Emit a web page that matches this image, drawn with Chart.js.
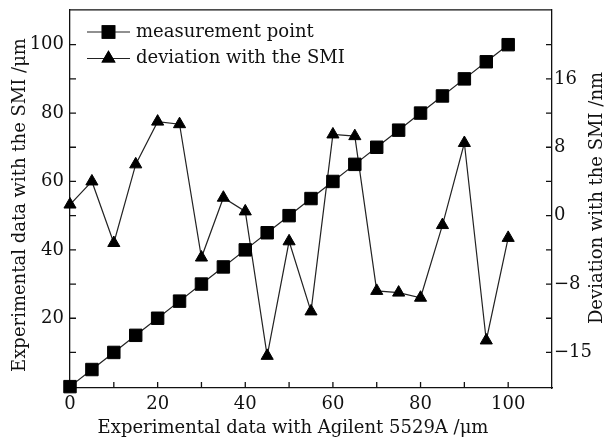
<!DOCTYPE html>
<html>
<head>
<meta charset="utf-8">
<script src="https://cdn.jsdelivr.net/npm/chart.js@4.4.1/dist/chart.umd.min.js"></script>
<style>
  html, body { margin: 0; padding: 0; background: #fff; }
  #wrap { width: 605px; height: 444px; }
</style>
</head>
<body>
<div id="wrap"><canvas id="chart"></canvas></div>
<script>
// x positions (Agilent 5529A, um)
const xValues = [0, 5, 10, 15, 20, 25, 30, 35, 40, 45, 50, 55, 60, 65, 70, 75, 80, 85, 90, 95, 100]
// measured with the SMI (um), left axis
const measured = [0, 5, 10, 15, 20, 25, 30, 35, 40, 45, 50, 55, 60, 65, 70, 75, 80, 85, 90, 95, 100]
// deviation with the SMI (nm), right axis
const deviation = [1.3, 4.0, -3.2, 6.0, 11.0, 10.7, -4.9, 2.1, 0.5, -16.4, -3.0, -11.2, 9.5, 9.3, -8.8, -9.0, -9.6, -1.1, 8.5, -14.6, -2.6]

const xTicks = [0, 10, 20, 30, 40, 50, 60, 70, 80, 90, 100]
const xLabels = [0, 20, 40, 60, 80, 100]
const leftTicks = [10, 20, 30, 40, 50, 60, 70, 80, 90, 100]
const leftLabels = [20, 40, 60, 80, 100]
const rightTicks = [-16, -12, -8, -4, 0, 4, 8, 12, 16, 20]
const rightLabelValues = [-16, -8, 0, 8, 16]
const rightLabelTexts = ['\u221215', '\u22128', '0', '8', '16']

const seriesNames = ['measurement point', 'deviation with the SMI']
const titleX = 'Experimental data with Agilent 5529A /\u03bcm'
const titleLeft = 'Experimental data with the SMI /\u03bcm'
const titleRight = 'Deviation with the SMI /nm'

const FONT = "'DejaVu Serif', serif"
const FSIZE = 18
Chart.defaults.font.family = FONT
Chart.defaults.font.size = FSIZE
Chart.defaults.color = '#111'

const toPoints = vals => xValues.map((x, i) => ({ x: x, y: vals[i] }))

const noPadV = s => { s.paddingTop = 0; s.paddingBottom = 0 }

const drawText = (ctx, text, x, y, rot) => {
	ctx.save()
	ctx.fillStyle = '#111'
	ctx.font = FSIZE + 'px ' + FONT
	ctx.textAlign = 'center'
	ctx.textBaseline = 'middle'
	ctx.translate(x, y)
	ctx.rotate(rot)
	ctx.fillText(text, 0, 0)
	ctx.restore()
}

// inward tick marks, frame top line, axis titles and legend
const decor = {
	id: 'decor',
	afterDraw(chart) {
		const ctx = chart.ctx
		const area = chart.chartArea
		ctx.save()
		ctx.strokeStyle = '#111'
		ctx.lineWidth = 1.3
		ctx.beginPath()
		ctx.moveTo(area.left, area.top)
		ctx.lineTo(area.right, area.top)
		const len = 6
		chart.scales.x.ticks.forEach(t => {
			if (t.value <= 0) return
			const px = chart.scales.x.getPixelForValue(t.value)
			ctx.moveTo(px, area.bottom)
			ctx.lineTo(px, area.bottom - len)
		})
		chart.scales.y.ticks.forEach(t => {
			const py = chart.scales.y.getPixelForValue(t.value)
			ctx.moveTo(area.left, py)
			ctx.lineTo(area.left + len, py)
		})
		chart.scales.y2.ticks.forEach(t => {
			const py = chart.scales.y2.getPixelForValue(t.value)
			ctx.moveTo(area.right, py)
			ctx.lineTo(area.right - len, py)
		})
		ctx.stroke()
		ctx.restore()

		// axis titles
		drawText(ctx, titleX, 293, 428, 0)
		drawText(ctx, titleLeft, 20, 205, -Math.PI / 2)
		drawText(ctx, titleRight, 597, 198, -Math.PI / 2)

		// legend
		ctx.save()
		ctx.fillStyle = '#fff'
		ctx.fillRect(80, 15, 270, 60)
		chart.data.datasets.forEach((ds, i) => {
			const y = 32 + i * 26.5
			ctx.strokeStyle = ds.borderColor
			ctx.lineWidth = ds.borderWidth
			ctx.beginPath()
			ctx.moveTo(87, y)
			ctx.lineTo(130, y)
			ctx.stroke()
			Chart.helpers.drawPoint(ctx, {
				pointStyle: ds.pointStyle,
				radius: ds.pointRadius,
				rotation: 0,
				borderWidth: 1
			}, 108.5, y)
			ctx.fillStyle = '#000'
			ctx.strokeStyle = '#000'
			ctx.fill()
			ctx.stroke()
			ctx.fillStyle = '#111'
			ctx.font = FSIZE + 'px ' + FONT
			ctx.textAlign = 'left'
			ctx.textBaseline = 'middle'
			ctx.fillText(ds.label, 136, y)
		})
		ctx.restore()
	}
}

new Chart(document.getElementById('chart'), {
	type: 'line',
	data: {
		datasets: [
			{
				label: seriesNames[0],
				data: toPoints(measured),
				yAxisID: 'y',
				borderColor: '#222',
				borderWidth: 1.2,
				pointStyle: 'rect',
				pointRadius: 8.8,
				pointBackgroundColor: '#000',
				pointBorderColor: '#000',
				pointBorderWidth: 1,
				clip: false,
			},
			{
				label: seriesNames[1],
				data: toPoints(deviation),
				yAxisID: 'y2',
				borderColor: '#222',
				borderWidth: 1.2,
				pointStyle: 'triangle',
				pointRadius: 7,
				pointBackgroundColor: '#000',
				pointBorderColor: '#000',
				pointBorderWidth: 1,
				clip: false,
			},
		],
	},
	options: {
		responsive: true,
		maintainAspectRatio: false,
		animation: false,
		layout: { padding: { top: 9, left: 0, right: 0, bottom: 0 } },
		plugins: { legend: { display: false }, tooltip: { enabled: false } },
		scales: {
			x: {
				type: 'linear',
				min: 0,
				max: 110,
				afterBuildTicks: s => { s.ticks = xTicks.map(v => ({ value: v })) },
				afterFit: s => { s.height = 56; s.paddingLeft = 0; s.paddingRight = 0 },
				grid: { display: false, drawTicks: false },
				border: { display: true, color: '#111', width: 1.3 },
				ticks: {
					padding: 6,
					maxRotation: 0,
					autoSkip: false,
					callback: v => (xLabels.includes(v) ? String(v) : ''),
				},
			},
			y: {
				position: 'left',
				min: -0.4,
				max: 110.2,
				afterBuildTicks: s => { s.ticks = leftTicks.map(v => ({ value: v })) },
				afterFit: s => { s.width = 70; noPadV(s) },
				grid: { display: false, drawTicks: false },
				border: { display: true, color: '#111', width: 1.3 },
				ticks: {
					padding: 6,
					autoSkip: false,
					callback: v => (leftLabels.includes(v) ? String(v) : ''),
				},
			},
			y2: {
				position: 'right',
				min: -20.16,
				max: 24.08,
				afterBuildTicks: s => { s.ticks = rightTicks.map(v => ({ value: v })) },
				afterFit: s => { s.width = 53; noPadV(s) },
				grid: { display: false, drawTicks: false },
				border: { display: true, color: '#111', width: 1.3 },
				ticks: {
					padding: 2,
					autoSkip: false,
					callback: v => {
						const k = rightLabelValues.indexOf(v)
						return k >= 0 ? rightLabelTexts[k] : ''
					},
				},
			},
		},
	},
	plugins: [decor],
})
</script>
</body>
</html>
